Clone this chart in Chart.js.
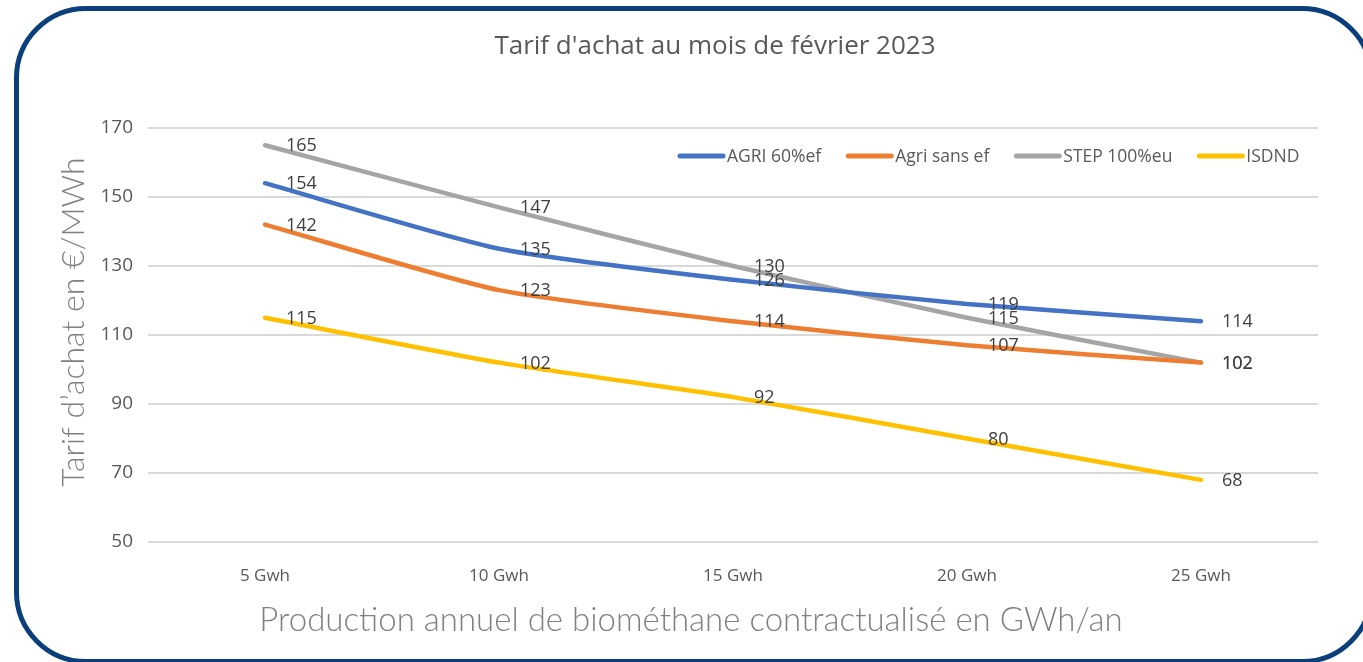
<!DOCTYPE html>
<html>
<head>
<meta charset="utf-8">
<script src="https://cdn.jsdelivr.net/npm/chart.js@4"></script>
<style>
    html, body { margin: 0; padding: 0; background: #fff; overflow: hidden; }
    #wrap { position: relative; width: 1363px; height: 662px; }
    #frame {
        position: absolute; left: 14px; top: 6px; width: 1350px; height: 648px;
        border: 5px solid #0b3f7b; border-radius: 72px; pointer-events: none;
    }
    canvas { position: absolute; left: 0; top: 0; }
</style>
</head>
<body>
<div id="wrap">
    <canvas id="tarifChart" width="1363" height="662"></canvas>
    <div id="frame"></div>
</div>
<script>
// Chart data
const categories = ['5 Gwh', '10 Gwh', '15 Gwh', '20 Gwh', '25 Gwh'];
const agri60 = [154, 135, 126, 119, 114];
const agriSansEf = [142, 123, 114, 107, 102];
const step100 = [165, 147, 130, 115, 102];
const isdnd = [115, 102, 92, 80, 68];
const yTicks = [50, 70, 90, 110, 130, 150, 170];

const seriesNames = ['AGRI 60%ef', 'Agri sans ef', 'STEP 100%eu', 'ISDND'];
const seriesColors = ['#4472c4', '#ed7d31', '#a5a5a5', '#ffc000'];
const seriesValues = [agri60, agriSansEf, step100, isdnd];

const textColor = '#595959';
const font = '"Open Sans", "Liberation Sans", sans-serif';

// Value labels to the right of each point
const valueLabels = {
    id: 'valueLabels',
    afterDatasetsDraw(chart) {
        const ctx = chart.ctx;
        ctx.save();
        ctx.font = '18px ' + font;
        ctx.fillStyle = '#404040';
        ctx.textBaseline = 'middle';
        ctx.textAlign = 'left';
        chart.data.datasets.forEach((ds, i) => {
            chart.getDatasetMeta(i).data.forEach((pt, j) => {
                ctx.fillText(String(ds.data[j]), pt.x + 21, pt.y + 1);
            });
        });
        ctx.restore();
    }
};

// Titles and in-plot legend
const decorations = {
    id: 'decorations',
    afterDraw(chart) {
        const ctx = chart.ctx;
        const area = chart.chartArea;
        ctx.save();

        ctx.fillStyle = textColor;
        ctx.textAlign = 'center';
        ctx.textBaseline = 'middle';
        ctx.font = '26px ' + font;
        ctx.fillText("Tarif d'achat au mois de février 2023", 715, 47);

        ctx.fillStyle = '#808080';
        ctx.font = '300 33px Lato, ' + font;
        ctx.fillText('Production annuel de biométhane contractualisé en GWh/an', 691, 620);

        ctx.save();
        ctx.translate(74, 322);
        ctx.rotate(-Math.PI / 2);
        ctx.font = '300 32px Lato, ' + font;
        ctx.fillText('Tarif d\u2019achat en €/MWh', 0, 0);
        ctx.restore();

        // legend
        ctx.font = '17.5px ' + font;
        ctx.textAlign = 'left';
        ctx.fillStyle = textColor;
        ctx.lineWidth = 5;
        ctx.lineCap = 'round';
        let x = 680;
        const y = area.top + 28;
        seriesNames.forEach((name, i) => {
            ctx.strokeStyle = seriesColors[i];
            ctx.beginPath();
            ctx.moveTo(x, y);
            ctx.lineTo(x + 43, y);
            ctx.stroke();
            ctx.fillText(name, x + 47, y + 1);
            x += 47 + ctx.measureText(name).width + 27;
        });
        ctx.restore();
    }
};

function initializeChart() {
    const canvas = document.getElementById('tarifChart');
    new Chart(canvas.getContext('2d'), {
        type: 'line',
        data: {
            labels: categories,
            datasets: seriesNames.map((name, i) => ({
                label: name,
                data: seriesValues[i],
                borderColor: seriesColors[i],
                backgroundColor: seriesColors[i],
                borderWidth: 4.5,
                borderCapStyle: 'round',
                borderJoinStyle: 'round',
                pointRadius: 0,
                tension: 0.2,
                fill: false
            }))
        },
        options: {
            responsive: false,
            animation: false,
            layout: { padding: { top: 128, right: 45, bottom: 0, left: 0 } },
            plugins: {
                legend: { display: false },
                title: { display: false },
                tooltip: { enabled: false }
            },
            scales: {
                x: {
                    offset: true,
                    grid: { display: false },
                    border: { display: false },
                    ticks: { color: textColor, font: { family: font, size: 17 }, padding: 16 },
                    afterFit(scale) { scale.height = 120; }
                },
                y: {
                    min: 50,
                    max: 170,
                    afterBuildTicks(scale) { scale.ticks = yTicks.map(v => ({ value: v })); },
                    grid: { color: '#d9d9d9', lineWidth: 2, drawTicks: false },
                    border: { display: false },
                    ticks: { color: textColor, font: { family: font, size: 19 }, padding: 15 },
                    afterFit(scale) { scale.width = 148; }
                }
            }
        },
        plugins: [valueLabels, decorations]
    });
}

document.addEventListener('DOMContentLoaded', initializeChart);
</script>
</body>
</html>
